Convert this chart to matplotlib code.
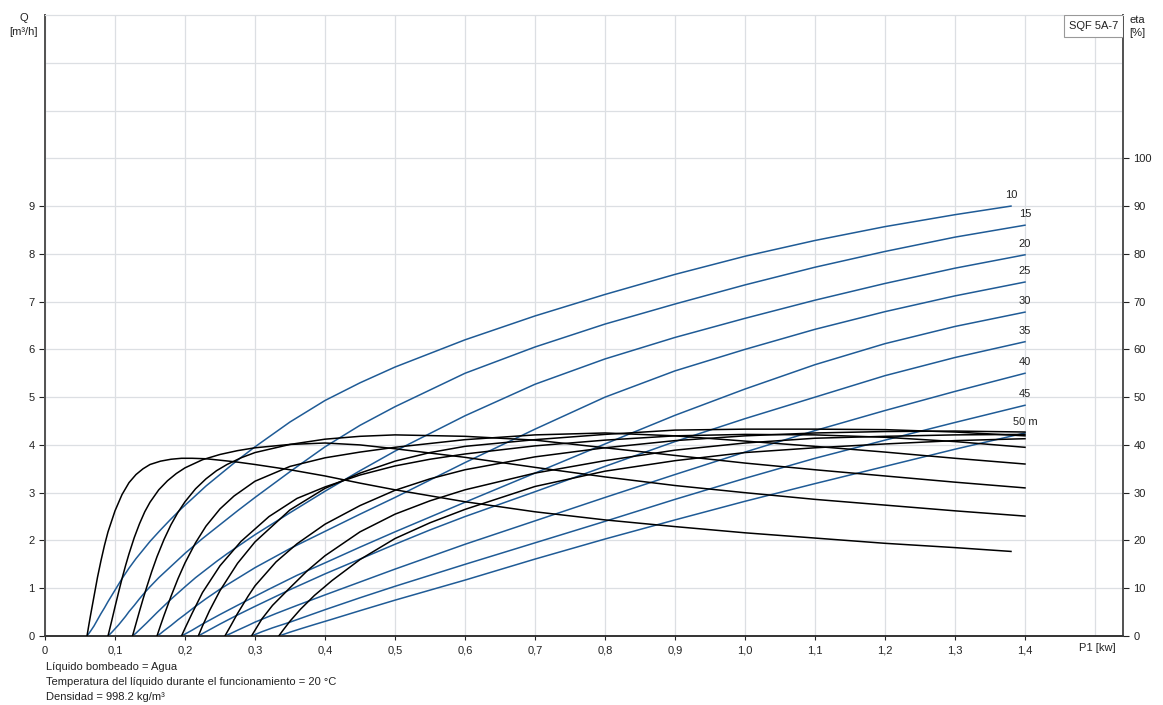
import matplotlib
matplotlib.use("Agg")
import matplotlib.pyplot as plt
from matplotlib.patches import Rectangle

plt.rcParams['font.family'] = ['Liberation Sans', 'DejaVu Sans']

# head of each curve pair [m]
heads = [10, 15, 20, 25, 30, 35, 40, 45, 50]
head_labels = ["10", "15", "20", "25", "30", "35", "40", "45", "50 m"]

# Q [m3/h] against P1 [kW], one list pair per head
p_q10 = [0.06, 0.0625, 0.065, 0.07, 0.075, 0.08, 0.085, 0.09, 0.1, 0.11, 0.12, 0.13, 0.14, 0.15, 0.165, 0.18, 0.195, 0.21, 0.23, 0.25,
         0.275, 0.3, 0.35, 0.4, 0.45, 0.5, 0.6, 0.7, 0.8, 0.9, 1.0, 1.1, 1.2, 1.3, 1.38]
q10 = [0, 0.05, 0.1, 0.21, 0.34, 0.47, 0.59, 0.72, 0.96, 1.2, 1.42, 1.62, 1.8, 1.98, 2.22, 2.45, 2.67, 2.87, 3.14, 3.38,
       3.68, 3.96, 4.48, 4.93, 5.3, 5.63, 6.2, 6.7, 7.15, 7.57, 7.95, 8.28, 8.57, 8.82, 9.0]
p_q15 = [0.09, 0.095, 0.1, 0.105, 0.11, 0.115, 0.12, 0.1275, 0.135, 0.1425, 0.15, 0.1625, 0.175, 0.1875, 0.2, 0.225,
         0.25, 0.275, 0.3, 0.35, 0.4, 0.45, 0.5, 0.6, 0.7, 0.8, 0.9, 1.0, 1.1, 1.2, 1.3, 1.4]
q15 = [0, 0.07, 0.15, 0.23, 0.32, 0.41, 0.51, 0.64, 0.78, 0.91, 1.03, 1.22, 1.39, 1.56, 1.73, 2.04,
       2.33, 2.62, 2.9, 3.44, 3.96, 4.41, 4.8, 5.5, 6.05, 6.53, 6.95, 7.35, 7.72, 8.05, 8.35, 8.6]
p_q20 = [0.125, 0.13, 0.135, 0.14, 0.145, 0.1525, 0.16, 0.17, 0.18, 0.19, 0.2, 0.215, 0.23, 0.245, 0.26,
         0.28, 0.3, 0.35, 0.4, 0.45, 0.5, 0.6, 0.7, 0.8, 0.9, 1.0, 1.1, 1.2, 1.3, 1.4]
q20 = [0, 0.06, 0.13, 0.2, 0.27, 0.38, 0.49, 0.63, 0.77, 0.9, 1.03, 1.22, 1.39, 1.56, 1.72,
       1.92, 2.12, 2.58, 3.03, 3.46, 3.87, 4.61, 5.27, 5.8, 6.25, 6.65, 7.03, 7.38, 7.7, 7.98]
p_q25 = [0.16, 0.165, 0.17, 0.18, 0.19, 0.2, 0.215, 0.23, 0.25, 0.27, 0.3, 0.35, 0.4, 0.45, 0.5, 0.6,
         0.7, 0.8, 0.9, 1.0, 1.1, 1.2, 1.3, 1.4]
q25 = [0, 0.05, 0.11, 0.22, 0.34, 0.45, 0.62, 0.78, 0.98, 1.16, 1.43, 1.83, 2.19, 2.55, 2.9, 3.63,
       4.33, 5.0, 5.55, 6.0, 6.42, 6.79, 7.12, 7.41]
p_q30 = [0.195, 0.2, 0.21, 0.225, 0.25, 0.28, 0.32, 0.36, 0.4, 0.45, 0.5, 0.55, 0.6, 0.7, 0.8, 0.9,
         1.0, 1.1, 1.2, 1.3, 1.4]
q30 = [0, 0.04, 0.12, 0.25, 0.45, 0.68, 0.98, 1.27, 1.53, 1.86, 2.18, 2.49, 2.8, 3.41, 4.02, 4.62,
       5.17, 5.68, 6.12, 6.48, 6.78]
p_q35 = [0.219, 0.225, 0.235, 0.25, 0.275, 0.3, 0.35, 0.4, 0.45, 0.5, 0.55, 0.6, 0.7, 0.8, 0.9, 1.0,
         1.1, 1.2, 1.3, 1.4]
q35 = [0, 0.05, 0.13, 0.25, 0.44, 0.62, 0.97, 1.3, 1.61, 1.92, 2.22, 2.5, 3.02, 3.55, 4.07, 4.55,
       5.0, 5.45, 5.83, 6.16]
p_q40 = [0.257, 0.265, 0.275, 0.29, 0.3, 0.33, 0.36, 0.4, 0.45, 0.5, 0.55, 0.6, 0.7, 0.8, 0.9, 1.0,
         1.1, 1.2, 1.3, 1.4]
q40 = [0, 0.05, 0.12, 0.22, 0.29, 0.47, 0.64, 0.86, 1.13, 1.4, 1.66, 1.92, 2.41, 2.9, 3.38, 3.85,
       4.3, 4.72, 5.12, 5.5]
p_q45 = [0.295, 0.3, 0.31, 0.325, 0.35, 0.375, 0.4, 0.45, 0.5, 0.55, 0.6, 0.7, 0.8, 0.9, 1.0, 1.1,
         1.2, 1.3, 1.4]
q45 = [0, 0.03, 0.09, 0.17, 0.29, 0.42, 0.55, 0.8, 1.04, 1.27, 1.5, 1.95, 2.4, 2.86, 3.3, 3.72,
       4.1, 4.47, 4.83]
p_q50 = [0.334, 0.34, 0.35, 0.365, 0.385, 0.41, 0.45, 0.5, 0.55, 0.6, 0.7, 0.8, 0.9, 1.0, 1.1, 1.2,
         1.3, 1.4]
q50 = [0, 0.03, 0.08, 0.15, 0.24, 0.35, 0.53, 0.75, 0.96, 1.17, 1.61, 2.03, 2.43, 2.82, 3.19, 3.55,
       3.91, 4.25]

# eta [%] against P1 [kW] (read at the same P1 points as Q)
eta10 = [0, 2.2, 4.3, 8.3, 12.3, 15.8, 19.0, 21.8, 26.2, 29.6, 32.1, 33.8, 35.0, 35.9, 36.6, 37.0, 37.2, 37.2, 37.1, 36.8,
         36.4, 35.9, 34.8, 33.5, 32.0, 30.6, 28.1, 26.0, 24.3, 22.9, 21.6, 20.5, 19.4, 18.5, 17.7]
eta15 = [0, 3.0, 6.1, 9.1, 12.0, 14.7, 17.2, 20.6, 23.5, 26.0, 28.0, 30.6, 32.5, 34.0, 35.2, 36.9,
         38.0, 38.8, 39.4, 40.1, 40.4, 40.0, 39.2, 37.4, 35.3, 33.3, 31.5, 30.0, 28.6, 27.4, 26.2, 25.1]
eta20 = [0, 2.6, 5.2, 7.7, 10.1, 13.5, 16.6, 20.2, 23.3, 25.9, 28.1, 30.8, 32.9, 34.6, 35.9,
         37.3, 38.4, 40.1, 41.2, 41.8, 42.1, 41.8, 41.0, 39.4, 37.8, 36.2, 34.8, 33.5, 32.2, 31.0]
eta25 = [0, 2.2, 4.3, 8.3, 12.0, 15.3, 19.5, 23.0, 26.6, 29.3, 32.4, 35.5, 37.3, 38.5, 39.5, 41.1,
         42.1, 42.5, 41.9, 40.8, 39.7, 38.5, 37.2, 36.0]
eta30 = [0, 1.6, 4.7, 9.1, 14.7, 19.8, 25.0, 28.8, 31.2, 33.7, 35.6, 37.0, 38.1, 39.8, 41.0, 41.9,
         42.2, 42.1, 41.6, 40.7, 39.5]
eta35 = [0, 2.1, 5.3, 9.5, 15.2, 19.7, 26.4, 30.9, 34.1, 36.6, 38.4, 39.7, 41.1, 42.2, 43.1, 43.3,
         43.3, 43.2, 42.7, 41.9]
eta40 = [0, 2.05, 4.7, 8.3, 10.5, 15.5, 19.3, 23.4, 27.3, 30.5, 32.9, 34.8, 37.5, 39.4, 40.9, 41.9,
         42.5, 42.8, 42.9, 42.7]
eta45 = [0, 1.2, 3.6, 6.4, 10.1, 13.7, 16.8, 21.8, 25.5, 28.3, 30.6, 34.1, 36.7, 38.9, 40.4, 41.4,
         41.8, 42.1, 42.2]
eta50 = [0, 1.2, 3.1, 5.6, 8.5, 11.6, 16.0, 20.4, 23.7, 26.5, 31.3, 34.5, 36.7, 38.4, 39.4, 40.2,
         40.9, 41.3]

p_lists = [p_q10, p_q15, p_q20, p_q25, p_q30, p_q35, p_q40, p_q45, p_q50]
q_lists = [q10, q15, q20, q25, q30, q35, q40, q45, q50]
eta_lists = [eta10, eta15, eta20, eta25, eta30, eta35, eta40, eta45, eta50]

x_ticks = [0, 0.1, 0.2, 0.3, 0.4, 0.5, 0.6, 0.7, 0.8, 0.9, 1.0, 1.1, 1.2, 1.3, 1.4]
x_tick_labels = ["0", "0,1", "0,2", "0,3", "0,4", "0,5", "0,6", "0,7", "0,8", "0,9", "1,0", "1,1", "1,2", "1,3", "1,4"]
q_ticks = [0, 1, 2, 3, 4, 5, 6, 7, 8, 9]
eta_ticks = [0, 10, 20, 30, 40, 50, 60, 70, 80, 90, 100]

notes = ["Líquido bombeado = Agua",
         "Temperatura del líquido durante el funcionamiento = 20 °C",
         "Densidad = 998.2 kg/m³"]

blue = "#1f5b96"
grid_c = "#dcdfe3"
txt_c = "#222222"
fs = 8

fig = plt.figure(figsize=(11.63, 7.05), dpi=100)
ax = fig.add_axes([0.0387, 0.0979, 0.9269, 0.8808])
ax.set_xlim(0, 1.54)
ax.set_ylim(0, 13)

# grid
for xv in x_ticks + [1.5]:
    ax.axvline(xv, color=grid_c, lw=0.9, zorder=0)
for yv in range(0, 13):
    ax.axhline(yv, color=grid_c, lw=0.9, zorder=0)

for p, q in zip(p_lists, q_lists):
    ax.plot(p, q, color=blue, lw=1.1, zorder=2)

for p, q, lab in zip(p_lists, q_lists, head_labels):
    ax.annotate(lab, xy=(p[-1], q[-1]), xytext=(0, 11), textcoords="offset pixels",
                ha="center", va="center", fontsize=fs, color=txt_c)

ax.set_xticks(x_ticks)
ax.set_xticklabels(x_tick_labels)
ax.set_yticks(q_ticks)
ax.tick_params(axis="both", labelsize=fs, colors=txt_c, length=4, width=0.8, direction="out")
ax.tick_params(axis="x", length=3, pad=4)

ax2 = ax.twinx()
ax2.set_ylim(0, 130)
for p, e in zip(p_lists, eta_lists):
    ax2.plot(p, e, color="black", lw=1.1, zorder=3)
ax2.set_yticks(eta_ticks)
ax2.tick_params(axis="y", labelsize=fs, colors=txt_c, length=4, width=0.8, direction="out")

for a in (ax, ax2):
    a.spines["top"].set_color(grid_c)
    a.spines["left"].set_color("#555555")
    a.spines["left"].set_linewidth(1.4)
    a.spines["right"].set_color("#555555")
    a.spines["right"].set_linewidth(1.4)
    a.spines["bottom"].set_color("#333333")
    a.spines["bottom"].set_linewidth(1.2)

# axis titles
fig.text(24 / 1163, 1 - 18 / 705, "Q", ha="center", va="center", fontsize=fs, color=txt_c)
fig.text(24 / 1163, 1 - 32 / 705, "[m³/h]", ha="center", va="center", fontsize=fs, color=txt_c)
fig.text(1129 / 1163, 1 - 20 / 705, "eta", ha="left", va="center", fontsize=fs, color=txt_c)
fig.text(1129 / 1163, 1 - 33 / 705, "[%]", ha="left", va="center", fontsize=fs, color=txt_c)
fig.text(1097 / 1163, 1 - 648 / 705, "P1 [kw]", ha="center", va="center", fontsize=fs, color=txt_c)

# model box in the top right corner
ax2.add_patch(Rectangle((0.9453, 0.9646), 0.0547, 0.0354, transform=ax.transAxes,
                        fc="white", ec="#999999", lw=0.8, zorder=5))
ax2.text(0.9725, 0.982, "SQF 5A-7", transform=ax.transAxes, ha="center", va="center",
         fontsize=fs, color=txt_c, zorder=6)

for i, line in enumerate(notes):
    fig.text(46 / 1163, 1 - (667 + 15 * i) / 705, line, ha="left", va="center",
             fontsize=fs, color=txt_c)

fig.savefig("out.png", dpi=100)
